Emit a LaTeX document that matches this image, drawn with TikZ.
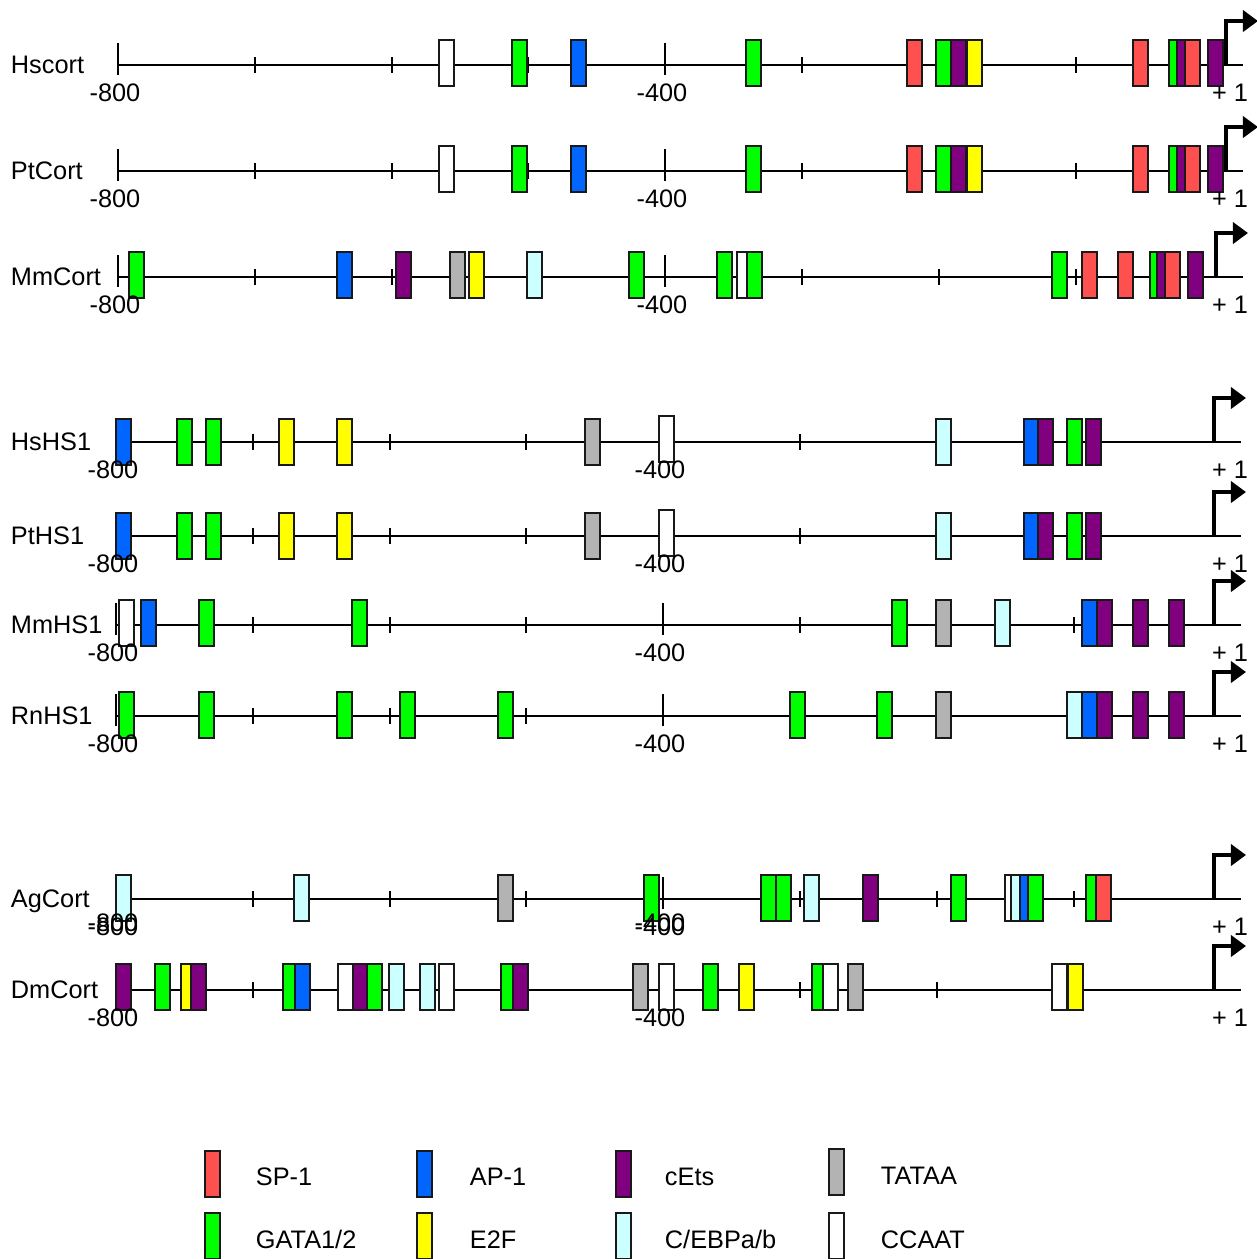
\documentclass[tikz,border=0pt]{standalone}
\usepackage{fontspec}
\setmainfont{Liberation Sans}
\usetikzlibrary{arrows.meta}

\definecolor{spone}{HTML}{FF5050}
\definecolor{apone}{HTML}{0066FF}
\definecolor{cets}{HTML}{800080}
\definecolor{tataa}{HTML}{B3B3B3}
\definecolor{gata}{HTML}{00FF00}
\definecolor{etwof}{HTML}{FFFF00}
\definecolor{cebp}{HTML}{CCFFFF}
\definecolor{ccaat}{HTML}{FFFFFF}

\tikzset{
  tfbox/.style={draw=black!90, line width=0.5pt},
  lbl/.style={font=\fontsize{7.2}{8.6}\selectfont, inner sep=0pt},
  tss/.style={line width=0.04cm, line join=miter, -{Triangle[length=1.5mm, width=2.1mm]}}
}

\begin{document}
\begin{tikzpicture}[x=0.01cm, y=-0.01cm, line width=0.55pt]
  \useasboundingbox (0,0) rectangle (1257,1259);
  % axes, ticks and start sites
  \foreach \n/\y/\xo/\ax in {Hscort/65/118/1226, PtCort/171/118/1226, MmCort/277/118/1216,
      HsHS1/442/116/1214, PtHS1/536/116/1214, MmHS1/625/116/1214, RnHS1/716/116/1214,
      AgCort/899/116/1214, DmCort/990/116/1214} {
    \draw (\xo,\y) -- ++(1125.5,0);
    \foreach \k in {1,2,3,5,6,7}
      \draw (\xo+\k*136.8,\y-8) -- ++(0,16);
    \foreach \k in {0,4}
      \draw (\xo+\k*136.8,\y-22) -- ++(0,32);
    \draw[tss] (\ax,\y) |- (\ax+32,\y-44);
  }
  % sites
  \foreach \y in {65,171}
    \foreach \x/\c in {439/ccaat, 512/gata, 571/apone, 746/gata, 907/spone, 936/gata, 951/cets,
        967/etwof, 1133/spone, 1169/gata, 1177/cets, 1185/spone, 1208/cets}
      \draw[tfbox, fill=\c] (\x,\y-25) rectangle ++(15,46);
  \foreach \x/\c in {129/gata, 337/apone, 396/cets, 450/tataa, 469/etwof, 527/cebp, 629/gata,
      717/gata, 737/ccaat, 747/gata, 1052/gata, 1082/spone, 1118/spone, 1150/gata, 1157/cets,
      1165/spone, 1188/cets}
    \draw[tfbox, fill=\c] (\x,277-25) rectangle ++(15,46);
  \foreach \y in {442,536}
    \foreach \x/\c in {116/apone, 177/gata, 206/gata, 279/etwof, 337/etwof, 585/tataa,
        936/cebp, 1024/apone, 1038/cets, 1067/gata, 1086/cets}
      \draw[tfbox, fill=\c] (\x,\y-23) rectangle ++(15,46);
  \foreach \y in {442,536}
    \draw[tfbox, fill=ccaat] (659,\y-26) rectangle ++(15,46);
  \foreach \x/\c in {119/ccaat, 141/apone, 199/gata, 352/gata, 892/gata, 936/tataa, 995/cebp,
      1082/apone, 1097/cets, 1133/cets, 1169/cets}
    \draw[tfbox, fill=\c] (\x,625-25) rectangle ++(15,46);
  \foreach \x/\c in {119/gata, 199/gata, 337/gata, 400/gata, 498/gata, 790/gata, 877/gata,
      936/tataa, 1067/cebp, 1082/apone, 1097/cets, 1133/cets, 1169/cets}
    \draw[tfbox, fill=\c] (\x,716-24) rectangle ++(15,46);
  \foreach \x/\c in {116/cebp, 294/cebp, 498/tataa, 644/gata, 761/gata, 776/gata, 804/cebp,
      863/cets, 951/gata, 1005/ccaat, 1011/cebp, 1020/apone, 1028/gata, 1086/gata, 1096/spone}
    \draw[tfbox, fill=\c] (\x,899-24) rectangle ++(15,46);
  \foreach \x/\c in {116/cets, 155/gata, 181/etwof, 191/cets, 283/gata, 295/apone, 338/ccaat,
      353/cets, 367/gata, 389/cebp, 420/cebp, 439/ccaat, 501/gata, 513/cets, 633/tataa,
      659/ccaat, 703/gata, 739/etwof, 812/gata, 823/ccaat, 848/tataa, 1052/ccaat, 1068/etwof}
    \draw[tfbox, fill=\c] (\x,990-26) rectangle ++(15,46);
  % labels
  \foreach \n/\y/\xo in {Hscort/65/118, PtCort/171/118, MmCort/277/118, HsHS1/442/116,
      PtHS1/536/116, MmHS1/625/116, RnHS1/716/116, AgCort/899/116, DmCort/990/116} {
    \node[lbl, anchor=base west] (name-\n) at (10,\y+8) {\n};
    \node[lbl, anchor=base] (m800-\n) at (\xo-3,\y+36) {-800};
    \node[lbl, anchor=base] (m400-\n) at (\xo+544,\y+36) {-400};
    \node[lbl, anchor=base east] (p1-\n) at (1249,\y+36) {+ 1};
  }
  \node[lbl, anchor=base] (m800-AgCort-b) at (113,931.5) {-800};
  \node[lbl, anchor=base] (m400-AgCort-b) at (660,931.5) {-400};
  % legend
  \draw[tfbox, fill=spone] (205,1151) rectangle ++(15,46);
  \draw[tfbox, fill=apone] (417,1151) rectangle ++(15,46);
  \draw[tfbox, fill=cets] (616,1151) rectangle ++(15,46);
  \draw[tfbox, fill=tataa] (829,1149) rectangle ++(15,46);
  \draw[tfbox, fill=gata] (205,1213) rectangle ++(15,46);
  \draw[tfbox, fill=etwof] (417,1213) rectangle ++(15,46);
  \draw[tfbox, fill=cebp] (616,1213) rectangle ++(15,46);
  \draw[tfbox, fill=ccaat] (829,1213) rectangle ++(15,46);
  \node[lbl, anchor=base west] (leg-sp) at (255,1185) {SP-1};
  \node[lbl, anchor=base west] (leg-ap) at (469,1185) {AP-1};
  \node[lbl, anchor=base west] (leg-ets) at (664,1185) {cEts};
  \node[lbl, anchor=base west] (leg-tata) at (880,1184) {TATAA};
  \node[lbl, anchor=base west] (leg-gata) at (255,1248) {GATA1/2};
  \node[lbl, anchor=base west] (leg-etwof) at (469,1248) {E2F};
  \node[lbl, anchor=base west] (leg-cebp) at (664,1248) {C/EBPa/b};
  \node[lbl, anchor=base west] (leg-ccaat) at (880,1248) {CCAAT};
\end{tikzpicture}
\end{document}
